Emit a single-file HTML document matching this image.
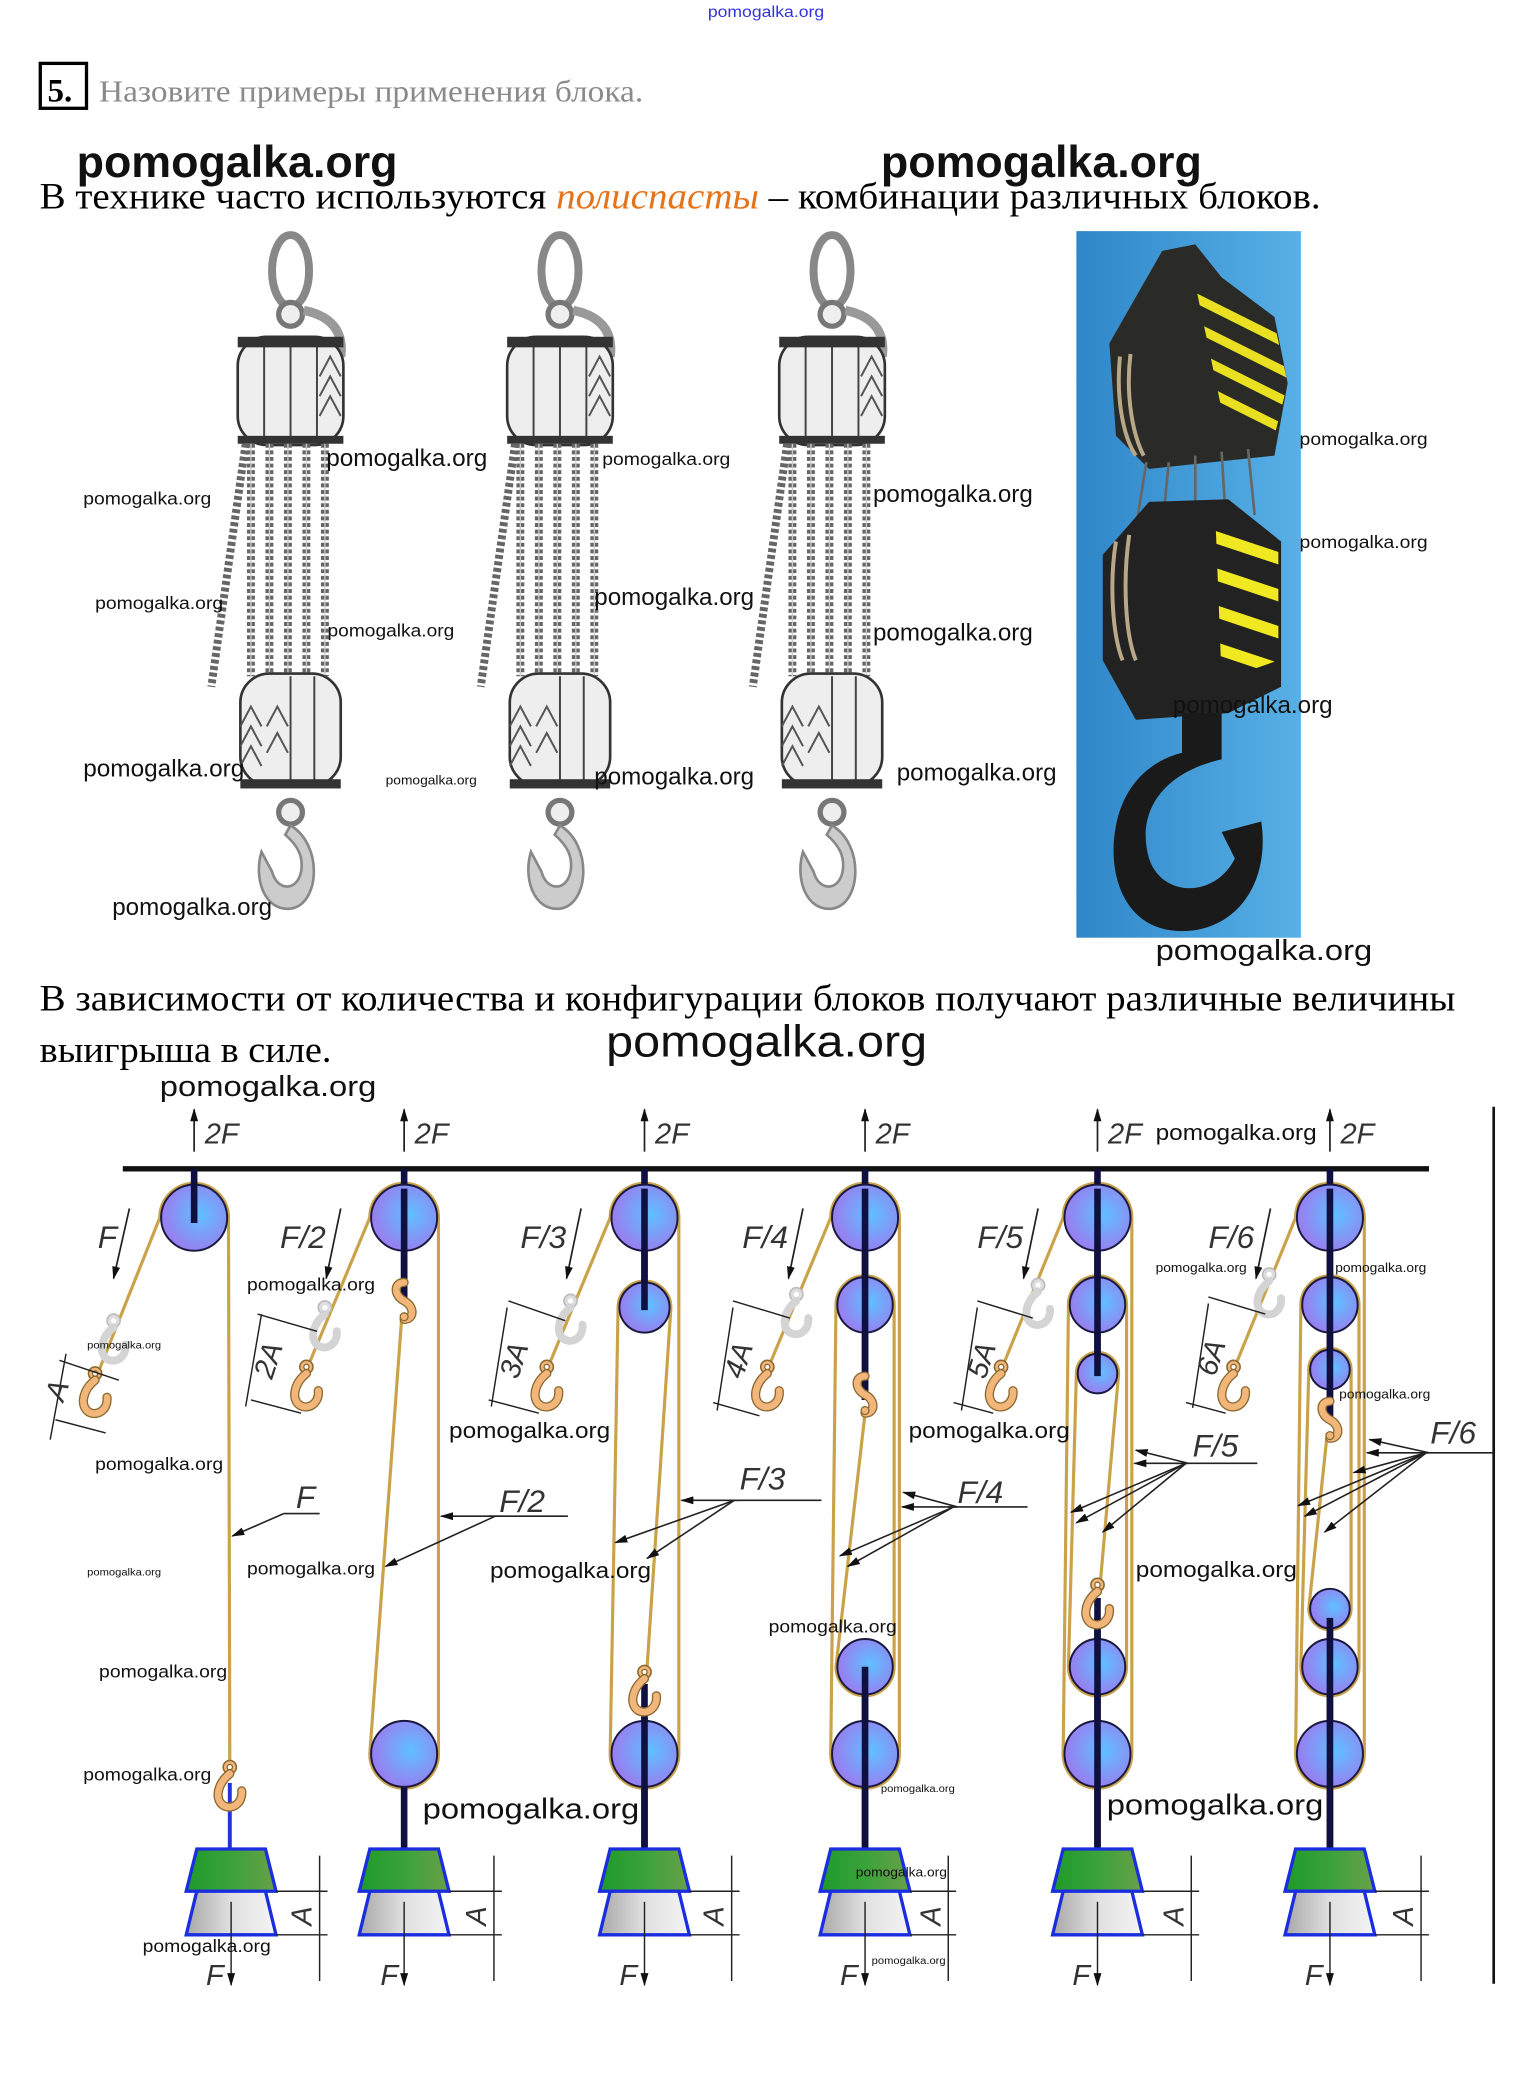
<!DOCTYPE html>
<html><head><meta charset="utf-8"><style>
html,body{margin:0;padding:0;background:#fff;}
svg{display:block;}
.wm{font-family:"Liberation Sans",sans-serif;fill:#111;}
.ser{font-family:"Liberation Serif","Noto Serif CJK SC",serif;}
.it{font-family:"Liberation Sans",sans-serif;font-style:italic;fill:#333;}
.rope{fill:none;stroke:#c9a24a;stroke-width:2.4;}
.rod{stroke:#101040;stroke-width:5;}
.thin{stroke:#222;stroke-width:1.1;fill:none;}
</style></head><body>
<svg width="1532" height="2078" viewBox="0 0 1160 1573.4" preserveAspectRatio="none" xmlns="http://www.w3.org/2000/svg">
<defs>
<radialGradient id="pg" cx="0.6" cy="0.45" r="0.6"><stop offset="0" stop-color="#5fc0ff"/><stop offset="1" stop-color="#9a7cf0"/></radialGradient>
<linearGradient id="gg" x1="0" x2="1"><stop offset="0" stop-color="#1f9a2a"/><stop offset="0.5" stop-color="#3aa23a"/><stop offset="1" stop-color="#6aa048"/></linearGradient>
<linearGradient id="gr" x1="0" x2="1"><stop offset="0" stop-color="#a8a8a8"/><stop offset="0.5" stop-color="#e0e0e0"/><stop offset="1" stop-color="#f4f4f4"/></linearGradient>
<linearGradient id="sky" x1="0" x2="1"><stop offset="0" stop-color="#2f86c8"/><stop offset="1" stop-color="#58b0e6"/></linearGradient>
<marker id="ar" markerWidth="10" markerHeight="6" refX="9" refY="3" orient="auto" markerUnits="userSpaceOnUse"><path d="M0,0 L10,3 L0,6 z" fill="#111"/></marker>
<g id="oh"><circle cx="0" cy="-12" r="5" fill="#f2b57a" stroke="#8a6a30" stroke-width="1.2"/><circle cx="0" cy="-12" r="2" fill="#fff" stroke="#8a6a30" stroke-width="1"/><path d="M0,-7 C-9,0 -12,12 -5,17 C2,21 10,15 9,6" fill="none" stroke="#8a6a30" stroke-width="7" stroke-linecap="round"/><path d="M0,-7 C-9,0 -12,12 -5,17 C2,21 10,15 9,6" fill="none" stroke="#f2b57a" stroke-width="5" stroke-linecap="round"/></g>
<g id="gh"><circle cx="0" cy="-12" r="5" fill="#ddd" stroke="#bbb" stroke-width="1.2"/><circle cx="0" cy="-12" r="2" fill="#fff"/><path d="M0,-7 C-9,0 -12,12 -5,17 C2,21 10,15 9,6" fill="none" stroke="#d4d4d4" stroke-width="6" stroke-linecap="round"/></g>
<g id="sh"><path d="M0,-14 C-8,-14 -8,-4 0,0 C8,4 8,14 0,14" fill="none" stroke="#8a6a30" stroke-width="7" stroke-linecap="round"/><path d="M0,-14 C-8,-14 -8,-4 0,0 C8,4 8,14 0,14" fill="none" stroke="#f2b57a" stroke-width="5" stroke-linecap="round"/><circle cx="0" cy="12" r="3" fill="#f2b57a" stroke="#8a6a30"/></g>
<g id="tack">
 <ellipse cx="0" cy-="0" cy="205" rx="14" ry="27" fill="none" stroke="#888" stroke-width="6"/>
 <circle cx="0" cy="238" r="9" fill="#eee" stroke="#777" stroke-width="4"/>
 <path d="M10,235 C35,240 40,255 38,270" fill="none" stroke="#999" stroke-width="7"/>
 <rect x="-40" y="255" width="80" height="82" rx="22" fill="#eee" stroke="#333" stroke-width="2"/>
 <path d="M-20,258 V334 M0,258 V334 M20,258 V334" stroke="#444" stroke-width="1.5"/>
 <path d="M22,300 L30,285 L38,300 M22,315 L30,300 L38,315 M22,285 L30,270 L38,285" stroke="#555" fill="none" stroke-width="1.5"/>
 <rect x="-40" y="255" width="80" height="8" fill="#333"/>
 <rect x="-40" y="330" width="80" height="6" fill="#333"/>
 <g stroke="#666" stroke-width="6" stroke-dasharray="3 2"><path d="M-30,336 V512 M-16,336 V512 M-2,336 V512 M12,336 V512 M26,336 V512"/><path d="M-34,336 L-60,520"/></g>
 <g stroke="#ccc" stroke-width="1" ><path d="M-30,336 V512 M-16,336 V512 M-2,336 V512 M12,336 V512 M26,336 V512"/></g>
 <rect x="-38" y="510" width="76" height="85" rx="22" fill="#eee" stroke="#333" stroke-width="2"/>
 <path d="M-22,550 L-30,535 L-38,550 M-22,565 L-30,550 L-38,565 M-22,580 L-30,565 L-38,580 M-2,550 L-10,535 L-18,550 M-2,570 L-10,555 L-18,570" stroke="#555" fill="none" stroke-width="1.5"/>
 <path d="M0,512 V594 M18,512 V594" stroke="#444" stroke-width="1.5"/>
 <rect x="-38" y="590" width="76" height="7" fill="#333"/>
 <circle cx="0" cy="615" r="9" fill="#eee" stroke="#777" stroke-width="4"/>
 <path d="M0,625 C25,640 22,685 0,688 C-20,690 -28,665 -22,645 L-14,660 C-10,675 5,675 8,660 C10,648 5,640 -4,632 z" fill="#ccc" stroke="#888" stroke-width="2"/>
</g>
</defs>

<!-- header -->
<text x="536" y="13" font-family="Liberation Sans,sans-serif" font-size="12" fill="#3333dd" textLength="88" lengthAdjust="spacingAndGlyphs">pomogalka.org</text>
<rect x="30.5" y="48" width="35" height="34" fill="none" stroke="#000" stroke-width="2.5"/>
<text x="36" y="77" class="ser" font-size="25" font-weight="bold">5.</text>
<text x="75" y="77" class="ser" font-size="23" fill="#8a8a8a" textLength="412" lengthAdjust="spacingAndGlyphs">Назовите примеры применения блока.</text>

<text x="58" y="134" class="wm" font-size="34" font-weight="bold" textLength="243" lengthAdjust="spacingAndGlyphs">pomogalka.org</text>
<text x="667" y="134" class="wm" font-size="34" font-weight="bold" textLength="243" lengthAdjust="spacingAndGlyphs">pomogalka.org</text>
<text x="30" y="158" class="ser" font-size="28" textLength="970" lengthAdjust="spacingAndGlyphs">В технике часто используются <tspan fill="#e6731a" font-style="italic">полиспасты</tspan> – комбинации различных блоков.</text>

<!-- tackle drawings -->
<use href="#tack" x="220" y="0"/>
<use href="#tack" x="424" y="0"/>
<use href="#tack" x="630" y="0"/>

<!-- crane photo -->
<rect x="815" y="175" width="170" height="535" fill="url(#sky)"/>
<path d="M880,190 L905,185 L925,210 L965,240 L975,290 L965,345 L870,355 L845,330 L840,260 Z" fill="#2a2a26"/>
<clipPath id="cp1"><path d="M905,215 L965,245 L975,290 L965,330 L925,310 Z"/></clipPath>
<g clip-path="url(#cp1)" stroke="#e8e020" stroke-width="7"><path d="M890,240 L990,290 M890,262 L990,312 M890,284 L990,334 M890,218 L990,268"/></g>
<path d="M848,270 C845,300 850,330 860,345 M856,268 C852,300 858,330 866,345" stroke="#b8a888" stroke-width="3" fill="none"/>
<path d="M868,350 L860,400 M885,350 L880,400 M905,345 L905,395 M925,342 L928,392 M945,340 L950,390" stroke="#666" stroke-width="2"/>
<path d="M870,380 L930,378 L970,410 L970,520 L930,540 L860,545 L835,500 L835,420 Z" fill="#222"/>
<clipPath id="cp2"><path d="M920,385 L968,410 L968,500 L925,515 Z"/></clipPath>
<g clip-path="url(#cp2)" stroke="#f0e820" stroke-width="9"><path d="M900,400 L990,430 M900,428 L990,458 M900,456 L990,486 M900,484 L990,514"/></g>
<path d="M845,410 C840,440 842,480 850,500 M855,405 C850,440 852,480 860,500" stroke="#b8a888" stroke-width="3" fill="none"/>
<path d="M895,540 L925,540 L925,575 C880,585 860,615 870,650 C880,680 920,680 935,650 L925,630 L955,622 C962,670 935,705 895,705 C850,705 838,660 845,625 C852,590 875,575 895,570 Z" fill="#1a1a1a"/>

<!-- tackle watermarks -->
<text x="247" y="353" class="wm" font-size="18" textLength="122" lengthAdjust="spacingAndGlyphs">pomogalka.org</text>
<text x="456" y="352" class="wm" font-size="13" textLength="97" lengthAdjust="spacingAndGlyphs">pomogalka.org</text>
<text x="63" y="382" class="wm" font-size="13" textLength="97" lengthAdjust="spacingAndGlyphs">pomogalka.org</text>
<text x="661" y="380" class="wm" font-size="18" textLength="121" lengthAdjust="spacingAndGlyphs">pomogalka.org</text>
<text x="72" y="461" class="wm" font-size="13" textLength="97" lengthAdjust="spacingAndGlyphs">pomogalka.org</text>
<text x="248" y="482" class="wm" font-size="13" textLength="96" lengthAdjust="spacingAndGlyphs">pomogalka.org</text>
<text x="450" y="458" class="wm" font-size="18" textLength="121" lengthAdjust="spacingAndGlyphs">pomogalka.org</text>
<text x="661" y="485" class="wm" font-size="18" textLength="121" lengthAdjust="spacingAndGlyphs">pomogalka.org</text>
<text x="984" y="337" class="wm" font-size="13" textLength="97" lengthAdjust="spacingAndGlyphs">pomogalka.org</text>
<text x="984" y="415" class="wm" font-size="13" textLength="97" lengthAdjust="spacingAndGlyphs">pomogalka.org</text>
<text x="888" y="540" class="wm" font-size="18" textLength="121" lengthAdjust="spacingAndGlyphs">pomogalka.org</text>
<text x="63" y="588" class="wm" font-size="18" textLength="122" lengthAdjust="spacingAndGlyphs">pomogalka.org</text>
<text x="292" y="594" class="wm" font-size="10" textLength="69" lengthAdjust="spacingAndGlyphs">pomogalka.org</text>
<text x="450" y="594" class="wm" font-size="18" textLength="121" lengthAdjust="spacingAndGlyphs">pomogalka.org</text>
<text x="679" y="591" class="wm" font-size="18" textLength="121" lengthAdjust="spacingAndGlyphs">pomogalka.org</text>
<text x="85" y="693" class="wm" font-size="18" textLength="121" lengthAdjust="spacingAndGlyphs">pomogalka.org</text>
<text x="875" y="727" class="wm" font-size="22" textLength="164" lengthAdjust="spacingAndGlyphs">pomogalka.org</text>

<text x="30" y="765" class="ser" font-size="28" textLength="1072" lengthAdjust="spacingAndGlyphs">В зависимости от количества и конфигурации блоков получают различные величины</text>
<text x="30" y="804" class="ser" font-size="28" textLength="221" lengthAdjust="spacingAndGlyphs">выигрыша в силе.</text>
<text x="459" y="800" class="wm" font-size="34" textLength="243" lengthAdjust="spacingAndGlyphs">pomogalka.org</text>
<text x="121" y="830" class="wm" font-size="22" textLength="164" lengthAdjust="spacingAndGlyphs">pomogalka.org</text>

<!-- diagram frame -->
<line x1="93" y1="885" x2="1082" y2="885" stroke="#111" stroke-width="4"/>
<line x1="1131" y1="838" x2="1131" y2="1502" stroke="#111" stroke-width="2"/>

<!-- 2F arrows -->
<g stroke="#222" stroke-width="1.3">
<line x1="147" y1="872" x2="147" y2="840" marker-end="url(#ar)"/>
<line x1="306" y1="872" x2="306" y2="840" marker-end="url(#ar)"/>
<line x1="488" y1="872" x2="488" y2="840" marker-end="url(#ar)"/>
<line x1="655" y1="872" x2="655" y2="840" marker-end="url(#ar)"/>
<line x1="831" y1="872" x2="831" y2="840" marker-end="url(#ar)"/>
<line x1="1007" y1="872" x2="1007" y2="840" marker-end="url(#ar)"/>
</g>
<g class="it" font-size="22">
<text x="155" y="866">2F</text><text x="314" y="866">2F</text><text x="496" y="866">2F</text><text x="663" y="866">2F</text><text x="839" y="866">2F</text><text x="1015" y="866">2F</text>
</g>
<text x="875" y="863" class="wm" font-size="17" textLength="122" lengthAdjust="spacingAndGlyphs">pomogalka.org</text>

<!-- top F labels -->
<g class="it" font-size="24">
<text x="74" y="945">F</text><text x="212" y="945">F/2</text><text x="394" y="945">F/3</text><text x="562" y="945">F/4</text><text x="740" y="945">F/5</text><text x="915" y="945">F/6</text>
</g>
<g stroke="#222" stroke-width="1.3">
<line x1="98" y1="915" x2="86" y2="968" marker-end="url(#ar)"/>
<line x1="258" y1="915" x2="247" y2="968" marker-end="url(#ar)"/>
<line x1="440" y1="915" x2="429" y2="968" marker-end="url(#ar)"/>
<line x1="608" y1="915" x2="597" y2="968" marker-end="url(#ar)"/>
<line x1="786" y1="915" x2="775" y2="968" marker-end="url(#ar)"/>
<line x1="962" y1="915" x2="951" y2="968" marker-end="url(#ar)"/>
</g>

<!-- ===== ropes ===== -->
<!-- sys1 -->
<path class="rope" d="M74,1040 L121,922 A26,26 0 0,1 173,922 L174,1335"/>
<!-- sys2 -->
<path class="rope" d="M233,1035 L280,922 A26,26 0 0,1 332,922 L332,1328 A26,26 0 0,1 280,1328 L304,1000"/>
<!-- sys3 -->
<path class="rope" d="M415,1035 L462,922 A26,26 0 0,1 514,922 L514,1328 A26,26 0 0,1 462,1328 L468,990 A20,20 0 0,1 508,990 L490,1262"/>
<!-- sys4 -->
<path class="rope" d="M582,1035 L629,922 A26,26 0 0,1 681,922 L681,1328 A26,26 0 0,1 629,1328 L633,988 A22,22 0 0,1 677,988 L677,1262 A22,22 0 0,1 633,1262 L655,1070"/>
<!-- sys5 -->
<path class="rope" d="M759,1035 L805,922 A26,26 0 0,1 857,922 L857,1328 A26,26 0 0,1 805,1328 L809,988 A22,22 0 0,1 853,988 L853,1262 A22,22 0 0,1 809,1262 L815,1040 A16,16 0 0,1 847,1040 L833,1200"/>
<!-- sys6 -->
<path class="rope" d="M935,1035 L981,922 A26,26 0 0,1 1033,922 L1033,1328 A26,26 0 0,1 981,1328 L985,988 A22,22 0 0,1 1029,988 L1029,1262 A22,22 0 0,1 985,1262 L991,1037 A16,16 0 0,1 1023,1037 L1023,1218 A16,16 0 0,1 991,1218 L1005,1085"/>

<!-- rods -->
<g class="rod">
<line x1="147" y1="885" x2="147" y2="924"/>
<line x1="306" y1="885" x2="306" y2="985"/><line x1="306" y1="1328" x2="306" y2="1400"/>
<line x1="488" y1="885" x2="488" y2="992"/><line x1="488" y1="1275" x2="488" y2="1400"/>
<line x1="655" y1="885" x2="655" y2="1060"/><line x1="655" y1="1262" x2="655" y2="1400"/>
<line x1="831" y1="885" x2="831" y2="1042"/><line x1="831" y1="1210" x2="831" y2="1400"/>
<line x1="1007" y1="885" x2="1007" y2="1075"/><line x1="1007" y1="1218" x2="1007" y2="1400"/>
</g>
<line x1="174" y1="1350" x2="174" y2="1400" stroke="#2233dd" stroke-width="3"/>

<!-- pulleys -->
<g fill="url(#pg)" stroke="#1a1a40" stroke-width="1.5">
<circle cx="147" cy="922" r="25"/>
<circle cx="306" cy="922" r="25"/><circle cx="306" cy="1328" r="25"/>
<circle cx="488" cy="922" r="25"/><circle cx="488" cy="990" r="19"/><circle cx="488" cy="1328" r="25"/>
<circle cx="655" cy="922" r="25"/><circle cx="655" cy="988" r="21"/><circle cx="655" cy="1262" r="21"/><circle cx="655" cy="1328" r="25"/>
<circle cx="831" cy="922" r="25"/><circle cx="831" cy="988" r="21"/><circle cx="831" cy="1040" r="15"/><circle cx="831" cy="1262" r="21"/><circle cx="831" cy="1328" r="25"/>
<circle cx="1007" cy="922" r="25"/><circle cx="1007" cy="988" r="21"/><circle cx="1007" cy="1037" r="15"/><circle cx="1007" cy="1218" r="15"/><circle cx="1007" cy="1262" r="21"/><circle cx="1007" cy="1328" r="25"/>
</g>
<g class="rod">
<line x1="147" y1="895" x2="147" y2="926"/>
<line x1="306" y1="900" x2="306" y2="985"/>
<line x1="488" y1="900" x2="488" y2="992"/><line x1="488" y1="1300" x2="488" y2="1400"/>
<line x1="655" y1="900" x2="655" y2="1060"/><line x1="655" y1="1262" x2="655" y2="1400"/>
<line x1="831" y1="900" x2="831" y2="1042"/><line x1="831" y1="1225" x2="831" y2="1400"/>
<line x1="1007" y1="900" x2="1007" y2="1075"/><line x1="1007" y1="1225" x2="1007" y2="1400"/>
</g>

<!-- hooks -->
<use href="#gh" x="86" y="1012"/><use href="#oh" x="72" y="1052"/>
<use href="#gh" x="246" y="1002"/><use href="#oh" x="232" y="1047"/>
<use href="#gh" x="432" y="997"/><use href="#oh" x="414" y="1047"/>
<use href="#gh" x="603" y="992"/><use href="#oh" x="581" y="1047"/>
<use href="#gh" x="786" y="985"/><use href="#oh" x="758" y="1047"/>
<use href="#gh" x="961" y="977"/><use href="#oh" x="934" y="1047"/>
<use href="#oh" x="174" y="1350"/>
<use href="#oh" x="488" y="1278"/>
<use href="#oh" x="831" y="1212"/>
<use href="#sh" x="306" y="985"/>
<use href="#sh" x="655" y="1056"/>
<use href="#sh" x="1007" y="1075"/>

<!-- A dimensions near hooks -->
<g class="thin">
<path d="M45,1030 L90,1045 M42,1075 L80,1085 M50,1025 L38,1090"/>
<path d="M195,995 L240,1008 M190,1060 L228,1070 M198,995 L186,1065"/>
<path d="M385,985 L428,1000 M370,1060 L408,1070 M384,990 L372,1065"/>
<path d="M555,985 L598,998 M540,1062 L575,1072 M555,990 L543,1068"/>
<path d="M740,985 L782,998 M722,1062 L752,1070 M740,990 L728,1068"/>
<path d="M915,982 L958,995 M898,1062 L928,1070 M915,987 L903,1066"/>
</g>
<g class="it" font-size="22">
<text transform="translate(48,1062) rotate(-72)">A</text>
<text transform="translate(206,1045) rotate(-72)">2A</text>
<text transform="translate(392,1045) rotate(-72)">3A</text>
<text transform="translate(562,1045) rotate(-72)">4A</text>
<text transform="translate(746,1045) rotate(-72)">5A</text>
<text transform="translate(920,1043) rotate(-72)">6A</text>
</g>

<!-- force leaders -->
<g class="it" font-size="24">
<text x="224" y="1142">F</text><text x="378" y="1145">F/2</text><text x="560" y="1128">F/3</text><text x="725" y="1138">F/4</text><text x="903" y="1103">F/5</text><text x="1083" y="1093">F/6</text>
</g>
<g stroke="#222" stroke-width="1.2" fill="none">
<path d="M242,1146 H215"/><line x1="215" y1="1146" x2="176" y2="1163" marker-end="url(#ar)"/>
<path d="M430,1148 H370"/><line x1="380" y1="1148" x2="334" y2="1148" marker-end="url(#ar)"/><line x1="375" y1="1148" x2="292" y2="1186" marker-end="url(#ar)"/>
<path d="M622,1136 H550"/><line x1="560" y1="1136" x2="516" y2="1136" marker-end="url(#ar)"/><line x1="556" y1="1136" x2="466" y2="1168" marker-end="url(#ar)"/><line x1="556" y1="1136" x2="490" y2="1180" marker-end="url(#ar)"/>
<path d="M778,1141 H718"/><line x1="725" y1="1141" x2="683" y2="1141" marker-end="url(#ar)"/><line x1="725" y1="1141" x2="684" y2="1130" marker-end="url(#ar)"/><line x1="722" y1="1141" x2="636" y2="1178" marker-end="url(#ar)"/><line x1="722" y1="1141" x2="642" y2="1186" marker-end="url(#ar)"/>
<path d="M952,1108 H890"/><line x1="900" y1="1108" x2="859" y2="1108" marker-end="url(#ar)"/><line x1="900" y1="1108" x2="860" y2="1098" marker-end="url(#ar)"/><line x1="898" y1="1108" x2="811" y2="1145" marker-end="url(#ar)"/><line x1="898" y1="1108" x2="815" y2="1153" marker-end="url(#ar)"/><line x1="898" y1="1108" x2="835" y2="1160" marker-end="url(#ar)"/>
<path d="M1131,1100 H1078"/><line x1="1082" y1="1100" x2="1035" y2="1100" marker-end="url(#ar)"/><line x1="1082" y1="1100" x2="1037" y2="1090" marker-end="url(#ar)"/><line x1="1080" y1="1100" x2="1025" y2="1115" marker-end="url(#ar)"/><line x1="1080" y1="1100" x2="983" y2="1140" marker-end="url(#ar)"/><line x1="1080" y1="1100" x2="988" y2="1148" marker-end="url(#ar)"/><line x1="1080" y1="1100" x2="1003" y2="1160" marker-end="url(#ar)"/>
</g>

<!-- weights -->
<g id="w1">
</g>
<g stroke="#1a2ee0" stroke-width="2.5">
<path d="M149,1400 H201 L209,1432 H141 Z" fill="url(#gg)"/><path d="M149,1432 H201 L209,1465 H141 Z" fill="url(#gr)"/>
<path d="M280,1400 H332 L340,1432 H272 Z" fill="url(#gg)"/><path d="M280,1432 H332 L340,1465 H272 Z" fill="url(#gr)"/>
<path d="M462,1400 H514 L522,1432 H454 Z" fill="url(#gg)"/><path d="M462,1432 H514 L522,1465 H454 Z" fill="url(#gr)"/>
<path d="M629,1400 H681 L689,1432 H621 Z" fill="url(#gg)"/><path d="M629,1432 H681 L689,1465 H621 Z" fill="url(#gr)"/>
<path d="M805,1400 H857 L865,1432 H797 Z" fill="url(#gg)"/><path d="M805,1432 H857 L865,1465 H797 Z" fill="url(#gr)"/>
<path d="M981,1400 H1033 L1041,1432 H973 Z" fill="url(#gg)"/><path d="M981,1432 H1033 L1041,1465 H973 Z" fill="url(#gr)"/>
</g>
<!-- weight dims -->
<g stroke="#222" stroke-width="1.1">
<path d="M209,1432 H248 M209,1465 H248 M242,1405 V1500"/>
<path d="M340,1432 H380 M340,1465 H380 M374,1405 V1500"/>
<path d="M522,1432 H560 M522,1465 H560 M554,1405 V1500"/>
<path d="M689,1432 H724 M689,1465 H724 M718,1405 V1500"/>
<path d="M865,1432 H908 M865,1465 H908 M902,1405 V1500"/>
<path d="M1041,1432 H1082 M1041,1465 H1082 M1076,1405 V1500"/>
<line x1="175" y1="1440" x2="175" y2="1503" marker-end="url(#ar)"/>
<line x1="306" y1="1440" x2="306" y2="1503" marker-end="url(#ar)"/>
<line x1="488" y1="1440" x2="488" y2="1503" marker-end="url(#ar)"/>
<line x1="655" y1="1440" x2="655" y2="1503" marker-end="url(#ar)"/>
<line x1="831" y1="1440" x2="831" y2="1503" marker-end="url(#ar)"/>
<line x1="1007" y1="1440" x2="1007" y2="1503" marker-end="url(#ar)"/>
</g>
<g class="it" font-size="22">
<text transform="translate(236,1458) rotate(-90)">A</text><text transform="translate(368,1458) rotate(-90)">A</text><text transform="translate(548,1458) rotate(-90)">A</text><text transform="translate(712,1458) rotate(-90)">A</text><text transform="translate(896,1458) rotate(-90)">A</text><text transform="translate(1070,1458) rotate(-90)">A</text>
<text x="156" y="1503">F</text><text x="288" y="1503">F</text><text x="469" y="1503">F</text><text x="636" y="1503">F</text><text x="812" y="1503">F</text><text x="988" y="1503">F</text>
</g>

<!-- diagram watermarks -->
<text x="187" y="977" class="wm" font-size="13" textLength="97" lengthAdjust="spacingAndGlyphs">pomogalka.org</text>
<text x="66" y="1021" class="wm" font-size="8" textLength="56" lengthAdjust="spacingAndGlyphs">pomogalka.org</text>
<text x="340" y="1089" class="wm" font-size="17" textLength="122" lengthAdjust="spacingAndGlyphs">pomogalka.org</text>
<text x="688" y="1089" class="wm" font-size="17" textLength="122" lengthAdjust="spacingAndGlyphs">pomogalka.org</text>
<text x="875" y="963" class="wm" font-size="10" textLength="69" lengthAdjust="spacingAndGlyphs">pomogalka.org</text>
<text x="1011" y="963" class="wm" font-size="10" textLength="69" lengthAdjust="spacingAndGlyphs">pomogalka.org</text>
<text x="1014" y="1059" class="wm" font-size="10" textLength="69" lengthAdjust="spacingAndGlyphs">pomogalka.org</text>
<text x="72" y="1113" class="wm" font-size="13" textLength="97" lengthAdjust="spacingAndGlyphs">pomogalka.org</text>
<text x="66" y="1193" class="wm" font-size="8" textLength="56" lengthAdjust="spacingAndGlyphs">pomogalka.org</text>
<text x="187" y="1192" class="wm" font-size="13" textLength="97" lengthAdjust="spacingAndGlyphs">pomogalka.org</text>
<text x="371" y="1195" class="wm" font-size="17" textLength="122" lengthAdjust="spacingAndGlyphs">pomogalka.org</text>
<text x="582" y="1236" class="wm" font-size="13" textLength="97" lengthAdjust="spacingAndGlyphs">pomogalka.org</text>
<text x="860" y="1194" class="wm" font-size="17" textLength="122" lengthAdjust="spacingAndGlyphs">pomogalka.org</text>
<text x="75" y="1270" class="wm" font-size="13" textLength="97" lengthAdjust="spacingAndGlyphs">pomogalka.org</text>
<text x="63" y="1348" class="wm" font-size="13" textLength="97" lengthAdjust="spacingAndGlyphs">pomogalka.org</text>
<text x="320" y="1377" class="wm" font-size="22" textLength="164" lengthAdjust="spacingAndGlyphs">pomogalka.org</text>
<text x="838" y="1374" class="wm" font-size="22" textLength="164" lengthAdjust="spacingAndGlyphs">pomogalka.org</text>
<text x="667" y="1357" class="wm" font-size="8" textLength="56" lengthAdjust="spacingAndGlyphs">pomogalka.org</text>
<text x="648" y="1421" class="wm" font-size="10" textLength="69" lengthAdjust="spacingAndGlyphs">pomogalka.org</text>
<text x="108" y="1478" class="wm" font-size="13" textLength="97" lengthAdjust="spacingAndGlyphs">pomogalka.org</text>
<text x="660" y="1487" class="wm" font-size="8" textLength="56" lengthAdjust="spacingAndGlyphs">pomogalka.org</text>
</svg>
</body></html>
